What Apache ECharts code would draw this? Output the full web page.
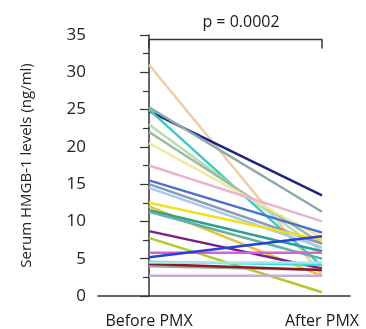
<!DOCTYPE html>
<html>
<head>
<meta charset="utf-8">
<script src="https://cdn.jsdelivr.net/npm/echarts@6/dist/echarts.min.js"></script>
<style>
html,body{margin:0;padding:0;background:#fff;}
#chart{width:366px;height:329px;}
</style>
</head>
<body>
<div id="chart"></div>
<script>
// 配对数据：治疗前 / 治疗后
var groups = ['Before PMX', 'After PMX'];
var beforeVals = [31, 24.8, 25, 25.3, 23, 22, 20.5, 17.5, 15.5, 15, 14.5, 12.5, 12, 11.5, 11.3, 8.7, 7.8, 5.8, 5.2, 4.6, 4.0, 4.3, 2.7, 4.5];
var afterVals  = [2.8, 13.5, 4, 11.3, 6, 7, 7.8, 10, 8.5, 7, 6.5, 7.5, 2.7, 6, 5, 3.7, 0.5, 5.8, 8, 4.2, 3.5, 3.5, 2.7, 4.5];
var lineColors = ['#f1cda6', '#1c2384', '#3ccbc3', '#8fa9a9', '#b9dab2', '#9fb9a0', '#efe9a2', '#e9b2d2',
  '#4a6fd2', '#8a9abb', '#a9c9e9', '#f2e120', '#e8c23e', '#2f9f8f', '#62b1a1', '#7b2182',
  '#b2c92f', '#d462d4', '#2341e2', '#31e0e2', '#a3a3a3', '#8b1b22', '#c3abd2', '#a2e9e9'];
var yTicks = [0, 35, 5];
var pText = 'p = 0.0002';

var myChart = echarts.init(document.getElementById('chart'));

var series = [];
for (var i = 0; i < beforeVals.length; i++) {
    series.push({
        type: 'line',
        data: [[0, beforeVals[i]], [1, afterVals[i]]],
        symbol: 'none',
        lineStyle: {color: lineColors[i], width: 2.5},
        silent: true,
        z: 2
    });
}
// 显著性括号
series.push({
    type: 'line',
    data: [[0, 33.2], [0, 34.4], [1, 34.4], [1, 33.2]],
    symbol: 'none',
    lineStyle: {color: '#333', width: 1.5},
    silent: true,
    z: 3
});

var option = {
    animation: false,
    title: {
        text: pText,
        left: 236,
        top: 9,
        textAlign: 'center',
        textStyle: {fontFamily: 'Open Sans', fontSize: 16, fontWeight: 'normal', color: '#1a1a1a'}
    },
    grid: {left: 98, right: 16, top: 35, bottom: 32},
    xAxis: {
        type: 'value',
        min: -0.295,
        max: 1.162,
        splitLine: {show: false},
        axisLine: {lineStyle: {color: '#333', width: 1.5}},
        axisTick: {show: false},
        axisLabel: {
            customValues: [0, 1],
            formatter: function (v) { return groups[Math.round(v)]; },
            margin: 17,
            fontFamily: 'Open Sans',
            fontSize: 16,
            color: '#1a1a1a'
        }
    },
    yAxis: {
        type: 'value',
        min: yTicks[0],
        max: yTicks[1],
        interval: yTicks[2],
        name: 'Serum HMGB-1 levels (ng/ml)',
        nameLocation: 'middle',
        nameGap: 64,
        nameTextStyle: {fontFamily: 'Open Sans', fontSize: 15, color: '#222'},
        splitLine: {show: false},
        axisLine: {show: true, lineStyle: {color: '#333', width: 1.5}},
        axisTick: {show: true, length: 9, lineStyle: {color: '#333', width: 1.2}},
        minorTick: {show: true, splitNumber: 2, length: 6, lineStyle: {color: '#333', width: 1.2}},
        axisLabel: {fontFamily: 'Open Sans', fontSize: 17, color: '#222', margin: 12}
    },
    series: series
};
myChart.setOption(option);
</script>
</body>
</html>
